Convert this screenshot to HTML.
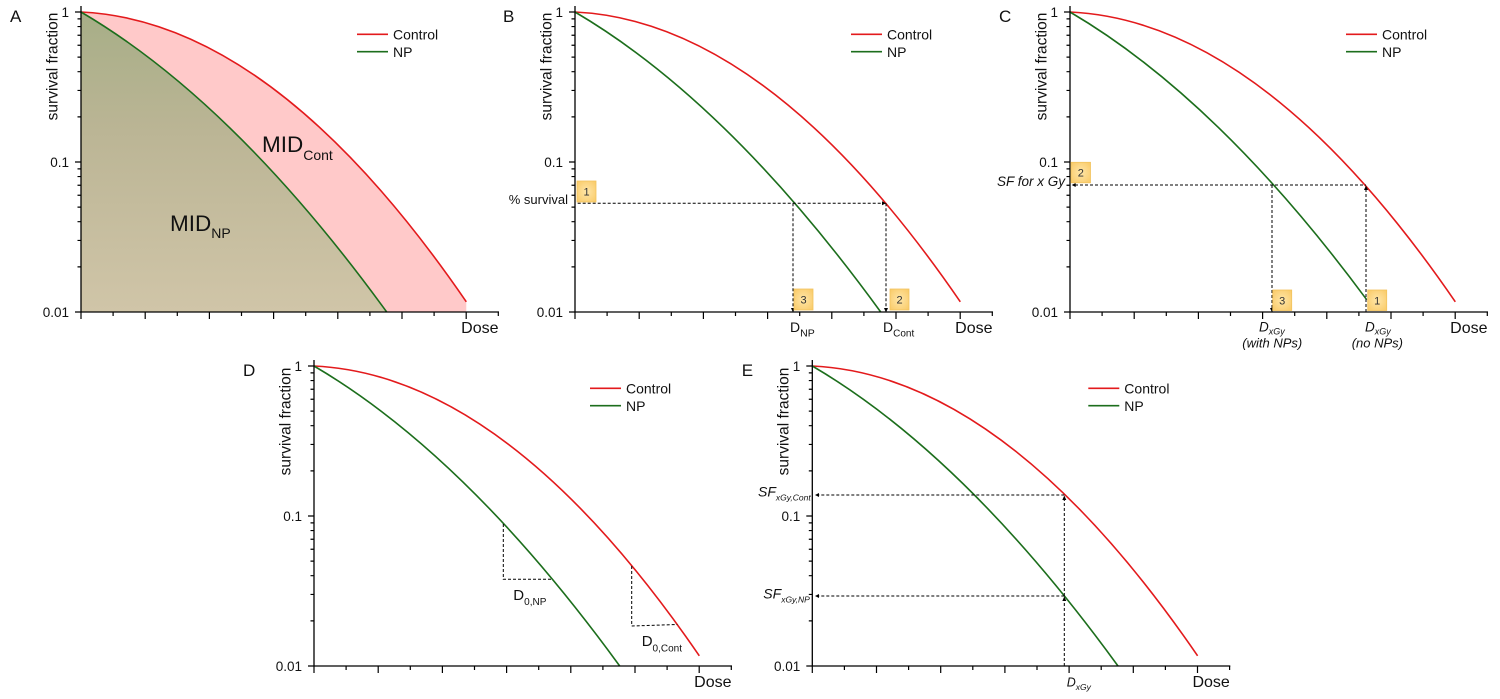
<!DOCTYPE html>
<html><head><meta charset="utf-8"><style>
html,body{margin:0;padding:0;background:#fff;}
svg{display:block;}
text{font-family:"Liberation Sans",Arial,sans-serif;fill:#111;}
.ax{fill:none;stroke:#000;stroke-width:1.3}
.tk{fill:none;stroke:#000;stroke-width:1.2}
.red{fill:none;stroke:#e31a1c;stroke-width:1.6}
.grn{fill:none;stroke:#1c6e1c;stroke-width:1.6}
.dsh{fill:none;stroke:#000;stroke-width:1;stroke-dasharray:3,2}
.box{fill:url(#bx);stroke:#f2c35e;stroke-width:0.8}
.bt{font-size:11px;text-anchor:middle;fill:#333}
.tl{font-size:13.5px;text-anchor:end}
.lg{font-size:14px}
.it{font-style:italic}
</style></head><body>
<svg width="1500" height="699" viewBox="0 0 1500 699" xmlns="http://www.w3.org/2000/svg">
<defs>
<linearGradient id="gf" x1="0" y1="0" x2="0" y2="300" gradientUnits="userSpaceOnUse">
<stop offset="0" stop-color="#a7ae87"/><stop offset="0.4" stop-color="#bbb595"/><stop offset="1" stop-color="#d0c5a8"/>
</linearGradient>
<radialGradient id="bx" cx="0.5" cy="0.5" r="0.7">
<stop offset="0" stop-color="#ffe6a8"/><stop offset="1" stop-color="#f9c965"/>
</radialGradient>
</defs>

<!-- ===== Panel A ===== -->
<g transform="translate(81,12)">
<path d="M0,0 Q192.65,9 385.3,289.8 L385.3,300 L0,300 Z" fill="#ffc9c9"/>
<path d="M0,0 Q152.85,89.63 305.7,300 L0,300 Z" fill="url(#gf)"/>
<path class="red" d="M0,0 Q192.65,9 385.3,289.8"/>
<path class="grn" d="M0,0 Q152.85,89.63 305.7,300"/>
<path class="ax" d="M0,-6V300H418"/>
<path class="tk" d="M-6,0H0M-6,150H0M-6,300H0M-3.5,6.86H0M-3.5,14.54H0M-3.5,23.24H0M-3.5,33.28H0M-3.5,45.15H0M-3.5,59.69H0M-3.5,78.43H0M-3.5,104.85H0M-3.5,156.86H0M-3.5,164.54H0M-3.5,173.24H0M-3.5,183.28H0M-3.5,195.15H0M-3.5,209.69H0M-3.5,228.43H0M-3.5,254.85H0M0,300V307M64.2,300V307M128.4,300V307M192.6,300V307M256.8,300V307M321,300V307M385.2,300V307M32.1,300V304M96.3,300V304M160.5,300V304M224.7,300V304M288.9,300V304M353.1,300V304M417.3,300V304"/>
<text class="tl" x="-12" y="5">1</text>
<text class="tl" x="-12" y="155">0.1</text>
<text class="tl" x="-12" y="305">0.01</text>
<text transform="translate(-23.7,54.5) rotate(-90)" font-size="15.5" text-anchor="middle">survival fraction</text>
<path d="M276,22.3H307" stroke="#e31a1c" stroke-width="1.6"/>
<path d="M276,39.7H307" stroke="#1c6e1c" stroke-width="1.6"/>
<text class="lg" x="312" y="27.6">Control</text>
<text class="lg" x="312" y="45">NP</text>
<text x="417.5" y="321" font-size="16" text-anchor="end">Dose</text>
<text x="-71" y="10" font-size="17">A</text>
<text x="181" y="140" font-size="22.5">MID<tspan font-size="14" dy="8">Cont</tspan></text>
<text x="89" y="219" font-size="22.5">MID<tspan font-size="14" dy="7">NP</tspan></text>
</g>

<!-- ===== Panel B ===== -->
<g transform="translate(575,12)">
<path class="red" d="M0,0 Q192.65,9 385.3,289.8"/>
<path class="grn" d="M0,0 Q152.85,89.63 305.7,300"/>
<path class="ax" d="M0,-6V300H418"/>
<path class="tk" d="M-6,0H0M-6,150H0M-6,300H0M-3.5,6.86H0M-3.5,14.54H0M-3.5,23.24H0M-3.5,33.28H0M-3.5,45.15H0M-3.5,59.69H0M-3.5,78.43H0M-3.5,104.85H0M-3.5,156.86H0M-3.5,164.54H0M-3.5,173.24H0M-3.5,183.28H0M-3.5,195.15H0M-3.5,209.69H0M-3.5,228.43H0M-3.5,254.85H0M0,300V307M64.2,300V307M128.4,300V307M192.6,300V307M256.8,300V307M321,300V307M385.2,300V307M32.1,300V304M96.3,300V304M160.5,300V304M224.7,300V304M288.9,300V304M353.1,300V304M417.3,300V304"/>
<text class="tl" x="-12" y="5">1</text>
<text class="tl" x="-12" y="155">0.1</text>
<text class="tl" x="-12" y="305">0.01</text>
<text transform="translate(-23.7,54.5) rotate(-90)" font-size="15.5" text-anchor="middle">survival fraction</text>
<path d="M276,22.3H307" stroke="#e31a1c" stroke-width="1.6"/>
<path d="M276,39.7H307" stroke="#1c6e1c" stroke-width="1.6"/>
<text class="lg" x="312" y="27.6">Control</text>
<text class="lg" x="312" y="45">NP</text>
<text x="417.5" y="321" font-size="16" text-anchor="end">Dose</text>
<text x="-72" y="10" font-size="17">B</text>
<path class="dsh" d="M2.7,191.3H309 M218,191.3V297 M311,191.3V297"/>
<polygon points="216,296 220,296 218,300.5" fill="#000"/>
<polygon points="309,296 313,296 311,300.5" fill="#000"/>
<polygon points="307,189.3 307,193.3 311,191.3" fill="#000"/>
<rect class="box" x="2" y="169" width="19" height="21"/>
<text class="bt" x="11.5" y="183.5">1</text>
<rect class="box" x="219" y="277" width="19" height="21"/>
<text class="bt" x="228.5" y="291.5">3</text>
<rect class="box" x="315" y="277" width="19" height="21"/>
<text class="bt" x="324.5" y="291.5">2</text>
<text x="-7" y="192" font-size="13" text-anchor="end">% survival</text>
<text x="215" y="320" font-size="14">D<tspan font-size="10.5" dy="4.5">NP</tspan></text>
<text x="308" y="320" font-size="14">D<tspan font-size="10" dy="4.5">Cont</tspan></text>
</g>

<!-- ===== Panel C ===== -->
<g transform="translate(1070,12)">
<path class="red" d="M0,0 Q192.65,9 385.3,289.8"/>
<path class="grn" d="M0,0 Q148.35,87 296.7,287.7"/>
<path class="ax" d="M0,-6V300H418"/>
<path class="tk" d="M-6,0H0M-6,150H0M-6,300H0M-3.5,6.86H0M-3.5,14.54H0M-3.5,23.24H0M-3.5,33.28H0M-3.5,45.15H0M-3.5,59.69H0M-3.5,78.43H0M-3.5,104.85H0M-3.5,156.86H0M-3.5,164.54H0M-3.5,173.24H0M-3.5,183.28H0M-3.5,195.15H0M-3.5,209.69H0M-3.5,228.43H0M-3.5,254.85H0M0,300V307M64.2,300V307M128.4,300V307M192.6,300V307M256.8,300V307M321,300V307M385.2,300V307M32.1,300V304M96.3,300V304M160.5,300V304M224.7,300V304M288.9,300V304M353.1,300V304M417.3,300V304"/>
<text class="tl" x="-12" y="5">1</text>
<text class="tl" x="-12" y="155">0.1</text>
<text class="tl" x="-12" y="305">0.01</text>
<text transform="translate(-23.7,54.5) rotate(-90)" font-size="15.5" text-anchor="middle">survival fraction</text>
<path d="M276,22.3H307" stroke="#e31a1c" stroke-width="1.6"/>
<path d="M276,39.7H307" stroke="#1c6e1c" stroke-width="1.6"/>
<text class="lg" x="312" y="27.6">Control</text>
<text class="lg" x="312" y="45">NP</text>
<text x="417.5" y="321" font-size="16" text-anchor="end">Dose</text>
<text x="-71" y="10" font-size="17">C</text>
<path class="dsh" d="M5,173H296 M202,173V296 M296,300V178"/>
<polygon points="1.7,173 5.7,171 5.7,175" fill="#000"/>
<polygon points="200,296 204,296 202,300.5" fill="#000"/>
<polygon points="294,178 298,178 296,173.5" fill="#000"/>
<rect class="box" x="1" y="150.3" width="19.5" height="20.5"/>
<text class="bt" x="10.75" y="164.5">2</text>
<rect class="box" x="202.7" y="278" width="19" height="20.5"/>
<text class="bt" x="212.2" y="292.3">3</text>
<rect class="box" x="297.7" y="278" width="19" height="20.5"/>
<text class="bt" x="307.2" y="292.3">1</text>
<text class="it" x="-5" y="174" font-size="13.5" text-anchor="end">SF for x Gy</text>
<text class="it" x="189" y="319.5" font-size="13.5">D<tspan font-size="9" dy="3">xGy</tspan></text>
<text class="it" x="172.3" y="335.5" font-size="13">(with NPs)</text>
<text class="it" x="295" y="319.5" font-size="13.5">D<tspan font-size="9" dy="3">xGy</tspan></text>
<text class="it" x="281.7" y="335.5" font-size="13">(no NPs)</text>
</g>

<!-- ===== Panel D ===== -->
<g transform="translate(314,366)">
<path class="red" d="M0,0 Q192.65,9 385.3,289.8"/>
<path class="grn" d="M0,0 Q152.85,89.63 305.7,300"/>
<path class="ax" d="M0,-6V300H418"/>
<path class="tk" d="M-6,0H0M-6,150H0M-6,300H0M-3.5,6.86H0M-3.5,14.54H0M-3.5,23.24H0M-3.5,33.28H0M-3.5,45.15H0M-3.5,59.69H0M-3.5,78.43H0M-3.5,104.85H0M-3.5,156.86H0M-3.5,164.54H0M-3.5,173.24H0M-3.5,183.28H0M-3.5,195.15H0M-3.5,209.69H0M-3.5,228.43H0M-3.5,254.85H0M0,300V307M64.2,300V307M128.4,300V307M192.6,300V307M256.8,300V307M321,300V307M385.2,300V307M32.1,300V304M96.3,300V304M160.5,300V304M224.7,300V304M288.9,300V304M353.1,300V304M417.3,300V304"/>
<text class="tl" x="-12" y="5">1</text>
<text class="tl" x="-12" y="155">0.1</text>
<text class="tl" x="-12" y="305">0.01</text>
<text transform="translate(-23.7,55.5) rotate(-90)" font-size="15.5" text-anchor="middle">survival fraction</text>
<path d="M276,22.3H307" stroke="#e31a1c" stroke-width="1.6"/>
<path d="M276,39.7H307" stroke="#1c6e1c" stroke-width="1.6"/>
<text class="lg" x="312" y="27.6">Control</text>
<text class="lg" x="312" y="45">NP</text>
<text x="417.5" y="321" font-size="16" text-anchor="end">Dose</text>
<text x="-71" y="10" font-size="17">D</text>
<path class="dsh" d="M189.3,158V213.3H237 M317.7,200V260L363.3,258.5"/>
<text x="199.3" y="234" font-size="15">D<tspan font-size="10" dy="5">0,NP</tspan></text>
<text x="327.7" y="280" font-size="15">D<tspan font-size="10" dy="5.5">0,Cont</tspan></text>
</g>

<!-- ===== Panel E ===== -->
<g transform="translate(812.3,366)">
<path class="red" d="M0,0 Q192.65,9 385.3,289.8"/>
<path class="grn" d="M0,0 Q152.85,89.63 305.7,300"/>
<path class="ax" d="M0,-6V300H418"/>
<path class="tk" d="M-6,0H0M-6,150H0M-6,300H0M-3.5,6.86H0M-3.5,14.54H0M-3.5,23.24H0M-3.5,33.28H0M-3.5,45.15H0M-3.5,59.69H0M-3.5,78.43H0M-3.5,104.85H0M-3.5,156.86H0M-3.5,164.54H0M-3.5,173.24H0M-3.5,183.28H0M-3.5,195.15H0M-3.5,209.69H0M-3.5,228.43H0M-3.5,254.85H0M0,300V307M64.2,300V307M128.4,300V307M192.6,300V307M256.8,300V307M321,300V307M385.2,300V307M32.1,300V304M96.3,300V304M160.5,300V304M224.7,300V304M288.9,300V304M353.1,300V304M417.3,300V304"/>
<text class="tl" x="-12" y="5">1</text>
<text class="tl" x="-12" y="155">0.1</text>
<text class="tl" x="-12" y="305">0.01</text>
<text transform="translate(-23.7,55.5) rotate(-90)" font-size="15.5" text-anchor="middle">survival fraction</text>
<path d="M276,22.3H307" stroke="#e31a1c" stroke-width="1.6"/>
<path d="M276,39.7H307" stroke="#1c6e1c" stroke-width="1.6"/>
<text class="lg" x="312" y="27.6">Control</text>
<text class="lg" x="312" y="45">NP</text>
<text x="417.5" y="321" font-size="16" text-anchor="end">Dose</text>
<text x="-70.6" y="10" font-size="17">E</text>
<path class="dsh" d="M252,300V134 M252,129H6.7 M252,230H6.7"/>
<polygon points="2.7,129 6.7,127 6.7,131" fill="#000"/>
<polygon points="2.7,230 6.7,228 6.7,232" fill="#000"/>
<polygon points="250,134 254,134 252,129.5" fill="#000"/>
<polygon points="250,235 254,235 252,230.5" fill="#000"/>
<text class="it" x="-54.3" y="130.7" font-size="14">SF<tspan font-size="8.5" dy="4">xGy,Cont</tspan></text>
<text class="it" x="-49" y="232.3" font-size="14">SF<tspan font-size="8.5" dy="4">xGy,NP</tspan></text>
<text class="it" x="254.4" y="320.7" font-size="12.5">D<tspan font-size="8.5" dy="3.3">xGy</tspan></text>
</g>
</svg>
</body></html>
